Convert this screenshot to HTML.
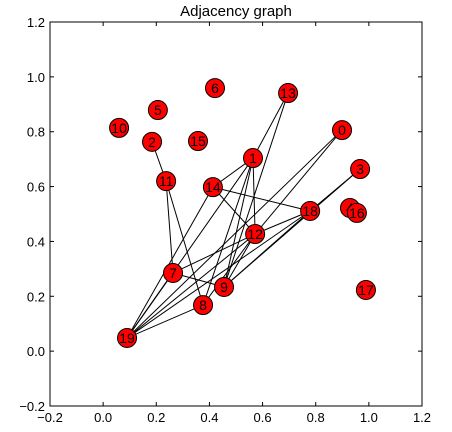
<!DOCTYPE html>
<html><head><meta charset="utf-8"><style>
body{margin:0;background:#fff;font-family:"Liberation Sans",sans-serif}
</style></head><body>
<svg id="chart" width="452" height="427" xmlns="http://www.w3.org/2000/svg"></svg>
<script>
const nodeIds=[0,1,2,3,4,5,6,7,8,9,10,11,12,13,14,15,16,17,18,19];
const nodeX=[0.899,0.564,0.184,0.967,0.929,0.206,0.421,0.263,0.376,0.455,0.060,0.237,0.572,0.696,0.413,0.357,0.955,0.989,0.779,0.090];
const nodeY=[0.806,0.704,0.763,0.664,0.522,0.879,0.959,0.285,0.168,0.234,0.814,0.620,0.427,0.941,0.598,0.766,0.504,0.223,0.511,0.048];
const edgeFrom=[2,11,11,13,13,1,1,1,1,1,0,0,3,3,14,14,14,18,18,18,12,12,12,12,7,8,7];
const edgeTo=[11,7,8,1,9,14,19,8,9,12,12,19,18,9,18,12,19,12,19,9,7,19,8,9,9,19,19];
const xTicks=[-0.2,0.0,0.2,0.4,0.6,0.8,1.0,1.2];
const yTicks=[-0.2,0.0,0.2,0.4,0.6,0.8,1.0,1.2];
const L=50,R=422,T=22,B=406;
const sx=v=>L+(v+0.2)/1.4*(R-L);
const sy=v=>B-(v+0.2)/1.4*(B-T);
const svg=document.getElementById('chart');
const NS='http://www.w3.org/2000/svg';
function mk(t,a){const e=document.createElementNS(NS,t);for(const k in a)e.setAttribute(k,a[k]);svg.appendChild(e);return e;}
const ttl=mk('text',{x:236,y:16,'text-anchor':'middle','font-size':15});ttl.textContent='Adjacency graph';


edgeFrom.forEach((f,i)=>{const t=edgeTo[i];
const l=mk('line',{x1:sx(nodeX[f]),y1:sy(nodeY[f]),x2:sx(nodeX[t]),y2:sy(nodeY[t]),stroke:'#000','stroke-width':1});

});
nodeIds.forEach((id,i)=>{const cx=sx(nodeX[i]),cy=sy(nodeY[i]);
const c=mk('circle',{cx:cx,cy:cy,r:9.5,fill:'#ff0000',stroke:'#000','stroke-width':1});


const t=mk('text',{x:cx,y:cy+5,'text-anchor':'middle','font-size':14});t.textContent=id;

});
const fr=mk('rect',{x:L,y:T,width:R-L,height:B-T,fill:'none',stroke:'#000','stroke-width':1});


xTicks.forEach(v=>{const x=sx(v);
mk('line',{x1:x,y1:B,x2:x,y2:B-4,stroke:'#000'});mk('line',{x1:x,y1:T,x2:x,y2:T+4,stroke:'#000'});
const t=mk('text',{x:x,y:B+16,'text-anchor':'middle','font-size':13});t.textContent=(v<0?'\u2212':'')+Math.abs(v).toFixed(1);

});
yTicks.forEach(v=>{const y=sy(v);
mk('line',{x1:L,y1:y,x2:L+4,y2:y,stroke:'#000'});mk('line',{x1:R,y1:y,x2:R-4,y2:y,stroke:'#000'});
const t=mk('text',{x:L-5,y:y+5,'text-anchor':'end','font-size':13});t.textContent=(v<0?'\u2212':'')+Math.abs(v).toFixed(1);

});
</script>
</body></html>
